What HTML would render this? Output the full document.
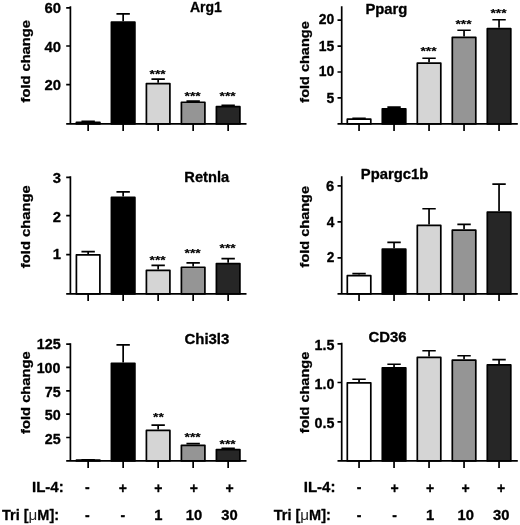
<!DOCTYPE html>
<html lang="en"><head><meta charset="utf-8"><title>Figure</title>
<style>
html,body{margin:0;padding:0;background:#fff;}
body{width:520px;height:525px;overflow:hidden;}
svg{display:block;}
</style></head><body>
<svg width="520" height="525" viewBox="0 0 520 525" font-family='&quot;Liberation Sans&quot;, sans-serif' font-weight="bold" fill="#000" stroke="#000" stroke-width="0.3" stroke-linejoin="round">
<rect width="520" height="525" fill="#fff" stroke="none"/>
<g>
<path d="M88.15 121.60V121.45M81.45 121.45H94.85" stroke="#000" stroke-width="1.70" fill="none"/>
<rect x="76.40" y="122.45" width="23.50" height="1.50" fill="#ffffff" stroke="#000" stroke-width="1.70"/>
<path d="M123.15 21.30V13.85M116.45 13.85H129.85" stroke="#000" stroke-width="1.70" fill="none"/>
<rect x="111.40" y="22.15" width="23.50" height="101.80" fill="#000000" stroke="#000" stroke-width="1.70"/>
<path d="M158.15 82.70V79.05M151.45 79.05H164.85" stroke="#000" stroke-width="1.70" fill="none"/>
<rect x="146.40" y="83.55" width="23.50" height="40.40" fill="#d5d5d5" stroke="#000" stroke-width="1.70"/>
<text transform="translate(157.65 77.65) scale(0.99 0.83)" font-size="14" text-anchor="middle" stroke-width="0.25">***</text>
<path d="M193.15 101.40V101.15M186.45 101.15H199.85" stroke="#000" stroke-width="1.70" fill="none"/>
<rect x="181.40" y="102.25" width="23.50" height="21.70" fill="#959595" stroke="#000" stroke-width="1.70"/>
<text transform="translate(192.65 99.55) scale(0.99 0.83)" font-size="14" text-anchor="middle" stroke-width="0.25">***</text>
<path d="M228.15 105.80V105.45M221.45 105.45H234.85" stroke="#000" stroke-width="1.70" fill="none"/>
<rect x="216.40" y="106.65" width="23.50" height="17.30" fill="#262626" stroke="#000" stroke-width="1.70"/>
<text transform="translate(227.65 99.55) scale(0.99 0.83)" font-size="14" text-anchor="middle" stroke-width="0.25">***</text>
<path d="M70.40 6.15V124.80M66.20 123.95H246.50" stroke="#000" stroke-width="1.70" fill="none"/>
<path d="M66.20 7.90H70.40M66.20 46.00H70.40M66.20 84.60H70.40M88.15 123.95V130.95M123.15 123.95V130.95M158.15 123.95V130.95M193.15 123.95V130.95M228.15 123.95V130.95" stroke="#000" stroke-width="1.70" fill="none"/>
<text transform="translate(61.00 12.94) scale(1.060 1)" font-size="14.0" text-anchor="end">60</text>
<text transform="translate(61.00 51.54) scale(1.060 1)" font-size="14.0" text-anchor="end">40</text>
<text transform="translate(61.00 90.14) scale(1.060 1)" font-size="14.0" text-anchor="end">20</text>
<text transform="translate(205.90 12.35) scale(1.000 1)" font-size="14.0" text-anchor="middle">Arg1</text>
<text transform="translate(30.20 61.30) rotate(-90)" font-size="13.5" text-anchor="middle" textLength="82.3" lengthAdjust="spacingAndGlyphs">fold change</text>
</g>
<g>
<path d="M359.05 118.30V118.35M352.35 118.35H365.75" stroke="#000" stroke-width="1.70" fill="none"/>
<rect x="347.30" y="119.15" width="23.50" height="4.80" fill="#ffffff" stroke="#000" stroke-width="1.70"/>
<path d="M394.05 108.00V107.15M387.35 107.15H400.75" stroke="#000" stroke-width="1.70" fill="none"/>
<rect x="382.30" y="108.85" width="23.50" height="15.10" fill="#000000" stroke="#000" stroke-width="1.70"/>
<path d="M429.05 62.20V58.25M422.35 58.25H435.75" stroke="#000" stroke-width="1.70" fill="none"/>
<rect x="417.30" y="63.05" width="23.50" height="60.90" fill="#d5d5d5" stroke="#000" stroke-width="1.70"/>
<text transform="translate(428.55 55.45) scale(0.99 0.83)" font-size="14" text-anchor="middle" stroke-width="0.25">***</text>
<path d="M464.05 36.50V30.25M457.35 30.25H470.75" stroke="#000" stroke-width="1.70" fill="none"/>
<rect x="452.30" y="37.35" width="23.50" height="86.60" fill="#959595" stroke="#000" stroke-width="1.70"/>
<text transform="translate(463.55 28.15) scale(0.99 0.83)" font-size="14" text-anchor="middle" stroke-width="0.25">***</text>
<path d="M499.05 27.80V19.75M492.35 19.75H505.75" stroke="#000" stroke-width="1.70" fill="none"/>
<rect x="487.30" y="28.65" width="23.50" height="95.30" fill="#262626" stroke="#000" stroke-width="1.70"/>
<text transform="translate(498.55 17.25) scale(0.99 0.83)" font-size="14" text-anchor="middle" stroke-width="0.25">***</text>
<path d="M341.70 6.15V124.80M337.50 123.95H517.80" stroke="#000" stroke-width="1.70" fill="none"/>
<path d="M337.50 20.20H341.70M337.50 46.10H341.70M337.50 72.00H341.70M337.50 97.90H341.70M359.05 123.95V130.95M394.05 123.95V130.95M429.05 123.95V130.95M464.05 123.95V130.95M499.05 123.95V130.95" stroke="#000" stroke-width="1.70" fill="none"/>
<text transform="translate(334.20 24.10) scale(1.000 1)" font-size="13.9" text-anchor="end">20</text>
<text transform="translate(334.20 50.50) scale(1.000 1)" font-size="13.9" text-anchor="end">15</text>
<text transform="translate(334.20 75.65) scale(1.000 1)" font-size="13.9" text-anchor="end">10</text>
<text transform="translate(334.20 102.90) scale(1.000 1)" font-size="13.9" text-anchor="end">5</text>
<text transform="translate(386.40 14.05) scale(1.060 1)" font-size="14.0" text-anchor="middle">Pparg</text>
<text transform="translate(309.20 62.00) rotate(-90)" font-size="13.0" text-anchor="middle" textLength="81.4" lengthAdjust="spacingAndGlyphs">fold change</text>
</g>
<g>
<path d="M88.15 254.00V251.55M81.45 251.55H94.85" stroke="#000" stroke-width="1.70" fill="none"/>
<rect x="76.40" y="254.85" width="23.50" height="39.05" fill="#ffffff" stroke="#000" stroke-width="1.70"/>
<path d="M123.15 196.60V191.85M116.45 191.85H129.85" stroke="#000" stroke-width="1.70" fill="none"/>
<rect x="111.40" y="197.45" width="23.50" height="96.45" fill="#000000" stroke="#000" stroke-width="1.70"/>
<path d="M158.15 269.50V265.35M151.45 265.35H164.85" stroke="#000" stroke-width="1.70" fill="none"/>
<rect x="146.40" y="270.35" width="23.50" height="23.55" fill="#d5d5d5" stroke="#000" stroke-width="1.70"/>
<text transform="translate(157.65 264.45) scale(0.99 0.83)" font-size="14" text-anchor="middle" stroke-width="0.25">***</text>
<path d="M193.15 266.40V262.85M186.45 262.85H199.85" stroke="#000" stroke-width="1.70" fill="none"/>
<rect x="181.40" y="267.25" width="23.50" height="26.65" fill="#959595" stroke="#000" stroke-width="1.70"/>
<text transform="translate(192.65 256.95) scale(0.99 0.83)" font-size="14" text-anchor="middle" stroke-width="0.25">***</text>
<path d="M228.15 262.70V258.55M221.45 258.55H234.85" stroke="#000" stroke-width="1.70" fill="none"/>
<rect x="216.40" y="263.55" width="23.50" height="30.35" fill="#262626" stroke="#000" stroke-width="1.70"/>
<text transform="translate(227.65 251.55) scale(0.99 0.83)" font-size="14" text-anchor="middle" stroke-width="0.25">***</text>
<path d="M70.40 176.15V294.75M66.20 293.90H246.50" stroke="#000" stroke-width="1.70" fill="none"/>
<path d="M66.20 177.40H70.40M66.20 215.70H70.40M66.20 254.70H70.40M88.15 293.90V300.90M123.15 293.90V300.90M158.15 293.90V300.90M193.15 293.90V300.90M228.15 293.90V300.90" stroke="#000" stroke-width="1.70" fill="none"/>
<text transform="translate(61.00 183.34) scale(1.060 1)" font-size="14.0" text-anchor="end">3</text>
<text transform="translate(61.00 221.64) scale(1.060 1)" font-size="14.0" text-anchor="end">2</text>
<text transform="translate(61.00 259.44) scale(1.060 1)" font-size="14.0" text-anchor="end">1</text>
<text transform="translate(206.75 181.75) scale(1.050 1)" font-size="14.0" text-anchor="middle">Retnla</text>
<text transform="translate(30.20 226.75) rotate(-90)" font-size="13.5" text-anchor="middle" textLength="82.8" lengthAdjust="spacingAndGlyphs">fold change</text>
</g>
<g>
<path d="M359.05 274.80V273.55M352.35 273.55H365.75" stroke="#000" stroke-width="1.70" fill="none"/>
<rect x="347.30" y="275.65" width="23.50" height="18.25" fill="#ffffff" stroke="#000" stroke-width="1.70"/>
<path d="M394.05 248.30V242.45M387.35 242.45H400.75" stroke="#000" stroke-width="1.70" fill="none"/>
<rect x="382.30" y="249.15" width="23.50" height="44.75" fill="#000000" stroke="#000" stroke-width="1.70"/>
<path d="M429.05 224.60V208.75M422.35 208.75H435.75" stroke="#000" stroke-width="1.70" fill="none"/>
<rect x="417.30" y="225.45" width="23.50" height="68.45" fill="#d5d5d5" stroke="#000" stroke-width="1.70"/>
<path d="M464.05 229.30V224.45M457.35 224.45H470.75" stroke="#000" stroke-width="1.70" fill="none"/>
<rect x="452.30" y="230.15" width="23.50" height="63.75" fill="#959595" stroke="#000" stroke-width="1.70"/>
<path d="M499.05 211.30V184.05M492.35 184.05H505.75" stroke="#000" stroke-width="1.70" fill="none"/>
<rect x="487.30" y="212.15" width="23.50" height="81.75" fill="#262626" stroke="#000" stroke-width="1.70"/>
<path d="M341.70 176.15V294.75M337.50 293.90H517.80" stroke="#000" stroke-width="1.70" fill="none"/>
<path d="M337.50 185.80H341.70M337.50 221.80H341.70M337.50 257.80H341.70M359.05 293.90V300.90M394.05 293.90V300.90M429.05 293.90V300.90M464.05 293.90V300.90M499.05 293.90V300.90" stroke="#000" stroke-width="1.70" fill="none"/>
<text transform="translate(334.30 191.39) scale(1.050 1)" font-size="14.0" text-anchor="end">6</text>
<text transform="translate(334.30 226.59) scale(0.980 1)" font-size="14.0" text-anchor="end">4</text>
<text transform="translate(334.30 262.29) scale(0.980 1)" font-size="14.0" text-anchor="end">2</text>
<text transform="translate(394.50 179.30) scale(1.057 1)" font-size="14.0" text-anchor="middle">Ppargc1b</text>
<text transform="translate(309.20 226.70) rotate(-90)" font-size="13.0" text-anchor="middle" textLength="81.4" lengthAdjust="spacingAndGlyphs">fold change</text>
</g>
<g>
<path d="M88.15 459.30V459.85M81.45 459.85H94.85" stroke="#000" stroke-width="1.70" fill="none"/>
<rect x="76.40" y="460.15" width="23.50" height="0.75" fill="#ffffff" stroke="#000" stroke-width="1.70"/>
<path d="M123.15 362.50V344.85M116.45 344.85H129.85" stroke="#000" stroke-width="1.70" fill="none"/>
<rect x="111.40" y="363.35" width="23.50" height="97.55" fill="#000000" stroke="#000" stroke-width="1.70"/>
<path d="M158.15 429.60V425.05M151.45 425.05H164.85" stroke="#000" stroke-width="1.70" fill="none"/>
<rect x="146.40" y="430.45" width="23.50" height="30.45" fill="#d5d5d5" stroke="#000" stroke-width="1.70"/>
<text transform="translate(158.45 420.75) scale(0.99 0.83)" font-size="14" text-anchor="middle" stroke-width="0.25">**</text>
<path d="M193.15 444.50V443.65M186.45 443.65H199.85" stroke="#000" stroke-width="1.70" fill="none"/>
<rect x="181.40" y="445.35" width="23.50" height="15.55" fill="#959595" stroke="#000" stroke-width="1.70"/>
<text transform="translate(192.65 441.35) scale(0.99 0.83)" font-size="14" text-anchor="middle" stroke-width="0.25">***</text>
<path d="M228.15 448.70V448.45M221.45 448.45H234.85" stroke="#000" stroke-width="1.70" fill="none"/>
<rect x="216.40" y="449.55" width="23.50" height="11.35" fill="#262626" stroke="#000" stroke-width="1.70"/>
<text transform="translate(227.65 447.75) scale(0.99 0.83)" font-size="14" text-anchor="middle" stroke-width="0.25">***</text>
<path d="M70.40 343.15V461.75M66.20 460.90H246.50" stroke="#000" stroke-width="1.70" fill="none"/>
<path d="M66.20 344.05H70.40M66.20 367.40H70.40M66.20 390.80H70.40M66.20 414.10H70.40M66.20 437.50H70.40M88.15 460.90V467.90M123.15 460.90V467.90M158.15 460.90V467.90M193.15 460.90V467.90M228.15 460.90V467.90" stroke="#000" stroke-width="1.70" fill="none"/>
<text transform="translate(60.70 349.34) scale(1.025 1)" font-size="14.0" text-anchor="end">125</text>
<text transform="translate(60.50 372.89) scale(1.020 1)" font-size="14.0" text-anchor="end">100</text>
<text transform="translate(60.70 396.74) scale(1.020 1)" font-size="14.0" text-anchor="end">75</text>
<text transform="translate(60.70 419.94) scale(1.020 1)" font-size="14.0" text-anchor="end">50</text>
<text transform="translate(60.70 444.14) scale(1.020 1)" font-size="14.0" text-anchor="end">25</text>
<text transform="translate(206.90 344.10) scale(1.070 1)" font-size="14.0" text-anchor="middle">Chi3l3</text>
<text transform="translate(30.20 392.60) rotate(-90)" font-size="13.5" text-anchor="middle" textLength="82.8" lengthAdjust="spacingAndGlyphs">fold change</text>
</g>
<g>
<path d="M359.05 382.00V379.25M352.35 379.25H365.75" stroke="#000" stroke-width="1.70" fill="none"/>
<rect x="347.30" y="382.85" width="23.50" height="78.05" fill="#ffffff" stroke="#000" stroke-width="1.70"/>
<path d="M394.05 367.00V364.25M387.35 364.25H400.75" stroke="#000" stroke-width="1.70" fill="none"/>
<rect x="382.30" y="367.85" width="23.50" height="93.05" fill="#000000" stroke="#000" stroke-width="1.70"/>
<path d="M429.05 356.60V350.75M422.35 350.75H435.75" stroke="#000" stroke-width="1.70" fill="none"/>
<rect x="417.30" y="357.45" width="23.50" height="103.45" fill="#d5d5d5" stroke="#000" stroke-width="1.70"/>
<path d="M464.05 359.30V355.75M457.35 355.75H470.75" stroke="#000" stroke-width="1.70" fill="none"/>
<rect x="452.30" y="360.15" width="23.50" height="100.75" fill="#959595" stroke="#000" stroke-width="1.70"/>
<path d="M499.05 364.10V359.65M492.35 359.65H505.75" stroke="#000" stroke-width="1.70" fill="none"/>
<rect x="487.30" y="364.95" width="23.50" height="95.95" fill="#262626" stroke="#000" stroke-width="1.70"/>
<path d="M341.70 342.65V461.75M337.50 460.90H517.80" stroke="#000" stroke-width="1.70" fill="none"/>
<path d="M337.50 343.80H341.70M337.50 382.50H341.70M337.50 421.80H341.70M359.05 460.90V467.90M394.05 460.90V467.90M429.05 460.90V467.90M464.05 460.90V467.90M499.05 460.90V467.90" stroke="#000" stroke-width="1.70" fill="none"/>
<text transform="translate(334.40 349.85) scale(1.000 1)" font-size="14.3" text-anchor="end">1.5</text>
<text transform="translate(334.40 388.65) scale(1.000 1)" font-size="14.3" text-anchor="end">1.0</text>
<text transform="translate(334.40 428.45) scale(1.000 1)" font-size="14.3" text-anchor="end">0.5</text>
<text transform="translate(387.60 342.20) scale(1.064 1)" font-size="14.0" text-anchor="middle">CD36</text>
<text transform="translate(309.20 392.50) rotate(-90)" font-size="13.0" text-anchor="middle" textLength="81.4" lengthAdjust="spacingAndGlyphs">fold change</text>
</g>
<text transform="translate(63.70 491.5) scale(1.0 1)" font-size="15" text-anchor="end">IL-4:</text>
<text transform="translate(59.10 519.7) scale(0.98 1)" font-size="14.8" text-anchor="end">Tri [<tspan font-weight="normal" stroke="none" fill="#222" font-size="15.5">μ</tspan>M]:</text>
<text x="87.30" y="491.70" font-size="14" text-anchor="middle">-</text>
<text x="87.30" y="519.9" font-size="14" text-anchor="middle">-</text>
<text x="122.85" y="492.50" font-size="14" text-anchor="middle">+</text>
<text x="122.85" y="519.9" font-size="14" text-anchor="middle">-</text>
<text x="158.40" y="492.50" font-size="14" text-anchor="middle">+</text>
<text transform="translate(158.40 519.7) scale(1.07 1)" font-size="13.8" text-anchor="middle">1</text>
<text x="193.95" y="492.50" font-size="14" text-anchor="middle">+</text>
<text transform="translate(193.95 519.7) scale(1.07 1)" font-size="13.8" text-anchor="middle">10</text>
<text x="229.50" y="492.50" font-size="14" text-anchor="middle">+</text>
<text transform="translate(229.50 519.7) scale(1.07 1)" font-size="13.8" text-anchor="middle">30</text>
<text transform="translate(335.40 491.5) scale(1.0 1)" font-size="15" text-anchor="end">IL-4:</text>
<text transform="translate(330.80 519.7) scale(0.98 1)" font-size="14.8" text-anchor="end">Tri [<tspan font-weight="normal" stroke="none" fill="#222" font-size="15.5">μ</tspan>M]:</text>
<text x="359.00" y="491.70" font-size="14" text-anchor="middle">-</text>
<text x="359.00" y="519.9" font-size="14" text-anchor="middle">-</text>
<text x="394.55" y="492.50" font-size="14" text-anchor="middle">+</text>
<text x="394.55" y="519.9" font-size="14" text-anchor="middle">-</text>
<text x="430.10" y="492.50" font-size="14" text-anchor="middle">+</text>
<text transform="translate(430.10 519.7) scale(1.07 1)" font-size="13.8" text-anchor="middle">1</text>
<text x="465.65" y="492.50" font-size="14" text-anchor="middle">+</text>
<text transform="translate(465.65 519.7) scale(1.07 1)" font-size="13.8" text-anchor="middle">10</text>
<text x="501.20" y="492.50" font-size="14" text-anchor="middle">+</text>
<text transform="translate(501.20 519.7) scale(1.07 1)" font-size="13.8" text-anchor="middle">30</text>
</svg>
</body></html>
